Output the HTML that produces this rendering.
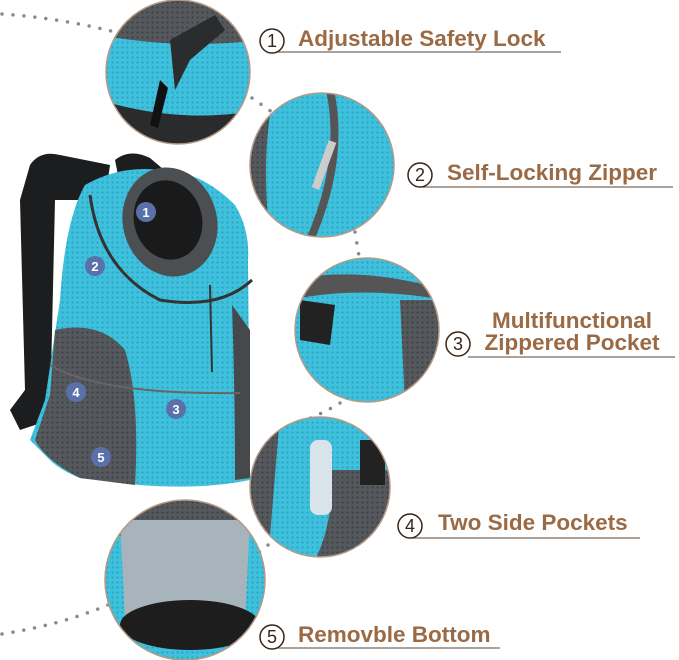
<!DOCTYPE html>
<html><head><meta charset="utf-8"><style>
body{margin:0;background:#fff;width:679px;height:660px;overflow:hidden;font-family:"Liberation Sans",sans-serif}
svg{display:block}
.t{font-family:"Liberation Sans",sans-serif;font-weight:bold;font-size:22.5px;fill:#9a6a45}
.n{font-family:"Liberation Sans",sans-serif;font-size:18px;fill:#3a2418}
</style></head><body>
<svg width="679" height="660" viewBox="0 0 679 660" xmlns="http://www.w3.org/2000/svg">
<defs>
<pattern id="mesh" width="5" height="5" patternUnits="userSpaceOnUse"><rect width="5" height="5" fill="#3fc0dc"/><circle cx="2.5" cy="2.5" r="1" fill="#2a9fbb"/></pattern>
<pattern id="gmesh" width="5" height="5" patternUnits="userSpaceOnUse"><rect width="5" height="5" fill="#55585c"/><circle cx="2.5" cy="2.5" r="1" fill="#3a3d40"/></pattern>
<clipPath id="c1"><circle cx="178" cy="72" r="72"/></clipPath>
<clipPath id="c2"><circle cx="322" cy="165" r="72"/></clipPath>
<clipPath id="c3"><circle cx="367" cy="330" r="72"/></clipPath>
<clipPath id="c4"><circle cx="320" cy="487" r="70"/></clipPath>
<clipPath id="c5"><circle cx="185" cy="580" r="80"/></clipPath>
</defs>
<g fill="none" stroke="#8a8a8a" stroke-width="3.5" stroke-linecap="round" stroke-dasharray="0 11">
<path d="M2 14 Q60 18 115 32"/>
<path d="M252 98 L272 112"/>
<path d="M355 232 L360 262"/>
<path d="M340 403 Q320 415 300 422"/>
<path d="M268 545 L255 556"/>
<path d="M2 634 Q60 625 108 605"/>
</g>
<path d="M30 165 Q40 150 60 155 L110 165 L105 200 L55 200 L50 420 L20 430 L10 410 L25 390 L20 200 Z" fill="#1c1d1f"/>
<path d="M115 160 Q130 148 150 158 L170 175 L120 185 Z" fill="#1c1d1f"/>
<path d="M85 185 Q120 165 160 170 Q200 170 235 205 Q250 230 248 260 L250 480 Q200 490 140 485 L80 478 Q60 470 50 460 L30 440 L45 400 L60 300 Q65 220 85 185 Z" fill="url(#mesh)"/>
<path d="M55 330 Q100 320 125 350 Q140 400 135 485 L80 478 Q45 460 35 440 L50 395 Z" fill="url(#gmesh)"/>
<path d="M232 305 Q235 390 235 480 L250 478 L250 330 Z" fill="#46494c"/>
<path d="M50 365 Q100 395 240 393" fill="none" stroke="#666" stroke-width="2"/>
<ellipse cx="170" cy="222" rx="47" ry="55" fill="#4c4f52" transform="rotate(-15 170 222)"/>
<ellipse cx="168" cy="220" rx="34" ry="40" fill="#1a1a1a" transform="rotate(-15 168 220)"/>
<path d="M90 195 Q100 270 160 300 Q220 310 252 280" fill="none" stroke="#333" stroke-width="3"/>
<line x1="210" y1="285" x2="212" y2="372" stroke="#333" stroke-width="2"/>
<g font-family="Liberation Sans" font-weight="bold" font-size="13" fill="#fff" text-anchor="middle">
<circle cx="146" cy="212" r="10" fill="#5a70a8"/><text x="146" y="217">1</text>
<circle cx="95" cy="266" r="10" fill="#5a70a8"/><text x="95" y="271">2</text>
<circle cx="176" cy="409" r="10" fill="#5a70a8"/><text x="176" y="414">3</text>
<circle cx="76" cy="392" r="10" fill="#5a70a8"/><text x="76" y="397">4</text>
<circle cx="101" cy="457" r="10" fill="#5a70a8"/><text x="101" y="462">5</text>
</g>
<g clip-path="url(#c1)"><rect x="100" y="0" width="160" height="150" fill="url(#gmesh)"/>
<path d="M100 35 Q180 50 260 40 L260 110 Q180 125 100 100 Z" fill="url(#mesh)"/>
<path d="M100 100 Q180 125 260 110 L260 150 L100 150 Z" fill="#2a2b2d"/>
<path d="M170 40 L215 15 L225 30 L190 60 L175 90 Z" fill="#2b2c2e"/>
<path d="M160 80 L150 125 L158 128 L168 88 Z" fill="#111"/></g>
<circle cx="178" cy="72" r="72" fill="none" stroke="#b59a85" stroke-width="1.5"/>
<g clip-path="url(#c2)"><rect x="245" y="90" width="160" height="150" fill="url(#mesh)"/>
<path d="M245 90 L275 90 Q260 150 270 240 L245 240 Z" fill="url(#gmesh)"/>
<path d="M330 90 Q345 160 310 240" fill="none" stroke="#555" stroke-width="8"/>
<rect x="320" y="140" width="8" height="50" fill="#ccc" transform="rotate(20 324 165)"/></g>
<circle cx="322" cy="165" r="72" fill="none" stroke="#b59a85" stroke-width="1.5"/>
<g clip-path="url(#c3)"><rect x="290" y="255" width="160" height="150" fill="url(#mesh)"/>
<path d="M290 280 Q360 265 445 290 L445 300 Q360 285 290 300 Z" fill="#555"/>
<path d="M300 300 L335 305 L330 345 L300 340 Z" fill="#222"/>
<path d="M290 350 Q370 345 445 350 L445 405 L290 405 Z" fill="url(#mesh)"/>
<path d="M400 300 L445 300 L445 405 L405 405 Z" fill="url(#gmesh)"/></g>
<circle cx="367" cy="330" r="72" fill="none" stroke="#b59a85" stroke-width="1.5"/>
<g clip-path="url(#c4)"><rect x="248" y="415" width="145" height="145" fill="url(#mesh)"/>
<path d="M330 470 Q335 520 315 560 L395 560 L395 470 Z" fill="url(#gmesh)"/>
<path d="M248 415 L280 415 L268 560 L248 560 Z" fill="url(#gmesh)"/>
<rect x="310" y="440" width="22" height="75" rx="8" fill="#d8e4ea"/>
<rect x="360" y="440" width="25" height="45" fill="#222"/></g>
<circle cx="320" cy="487" r="70" fill="none" stroke="#b59a85" stroke-width="1.5"/>
<g clip-path="url(#c5)"><rect x="100" y="498" width="170" height="165" fill="url(#mesh)"/>
<path d="M100 498 L270 498 L270 530 Q185 520 100 540 Z" fill="url(#gmesh)"/>
<path d="M120 520 L250 520 L245 620 L125 620 Z" fill="#a8b4bc"/>
<ellipse cx="190" cy="625" rx="70" ry="25" fill="#1d1d1d"/></g>
<circle cx="185" cy="580" r="80" fill="none" stroke="#b59a85" stroke-width="1.5"/>
<g stroke="#7a6a60" stroke-width="1.3">
<line x1="275" y1="52" x2="561" y2="52"/>
<line x1="422" y1="187" x2="673" y2="187"/>
<line x1="468" y1="357" x2="675" y2="357"/>
<line x1="412" y1="538" x2="640" y2="538"/>
<line x1="275" y1="648" x2="500" y2="648"/>
</g>
<g fill="#fff" stroke="#3a2418" stroke-width="1.5">
<circle cx="272" cy="41" r="12"/><circle cx="420" cy="175" r="12"/><circle cx="458" cy="344" r="12"/><circle cx="410" cy="526" r="12"/><circle cx="272" cy="637" r="12"/>
</g>
<g class="n" text-anchor="middle">
<text x="272" y="47">1</text><text x="420" y="181">2</text><text x="458" y="350">3</text><text x="410" y="532">4</text><text x="272" y="643">5</text>
</g>
<text class="t" x="298" y="46">Adjustable Safety Lock</text>
<text class="t" x="447" y="180">Self-Locking Zipper</text>
<text class="t" x="572" y="328" text-anchor="middle">Multifunctional</text>
<text class="t" x="572" y="350" text-anchor="middle">Zippered Pocket</text>
<text class="t" x="438" y="530">Two Side Pockets</text>
<text class="t" x="298" y="642">Removble Bottom</text>
</svg>
</body></html>
